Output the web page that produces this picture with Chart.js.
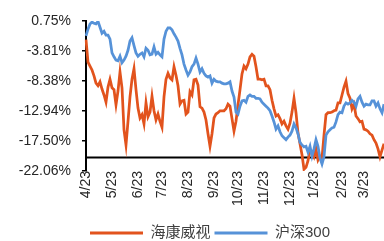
<!DOCTYPE html>
<html>
<head>
<meta charset="utf-8">
<script src="https://cdn.jsdelivr.net/npm/chart.js@4.4.1/dist/chart.umd.min.js"></script>
<style>
  html, body { margin: 0; padding: 0; background: #fff; }
  #wrap { width: 384px; height: 241px; }
</style>
</head>
<body>
<div id="wrap"><canvas id="chart" width="384" height="241"></canvas></div>
<script>
// 系列名称
const seriesNames = ['海康威视', '沪深300'];

// 月份刻度 (标签与所在数据序号)
const monthLabels = ['4/23', '5/23', '6/23', '7/23', '8/23', '9/23', '10/23', '11/23', '12/23', '1/23', '2/23', '3/23'];
const monthIdx = [0, 13, 26, 38, 51, 64, 76, 89, 102, 114, 128, 139];

// 纵轴刻度, 横轴交叉于 -20%
const yTicks = [0.75, -3.81, -8.38, -12.94, -17.50, -22.06];
const axisCross = -20;

// 累计涨跌幅 (%)
const hikvision = [
  -2.1, -5.5, -6.1, -6.7, -7.6, -8.7, -9.1, -8.5, -9.6, -10.5,
  -11.6, -9.3, -8.1, -9.4, -9.7, -12.0, -9.9, -7.0, -9.4, -15.8,
  -18.1, -14.5, -10.8, -8.1, -6.5, -9.7, -12.5, -14.0, -13.5, -14.9,
  -11.7, -13.8, -13.1, -10.7, -12.9, -14.3, -13.4, -14.5, -15.4, -10.8,
  -8.1, -7.2, -7.9, -8.2, -6.2, -7.5, -9.1, -11.9, -11.4, -11.3,
  -13.4, -13.1, -10.0, -10.5, -8.2, -8.1, -9.0, -12.3, -12.5, -13.1,
  -14.3, -16.4, -18.3, -16.4, -14.0, -13.4, -13.2, -12.9, -12.9, -12.9,
  -12.6, -11.9, -12.2, -14.1, -16.0, -14.5, -12.0, -9.7, -7.3, -6.1,
  -6.5, -5.8, -4.7, -4.3, -4.6, -6.2, -8.1, -8.1, -8.2, -8.1,
  -9.1, -9.1, -9.7, -11.3, -12.6, -13.7, -13.5, -14.1, -14.9, -14.5,
  -15.2, -15.7, -14.8, -13.1, -11.0, -13.2, -16.3, -17.9, -19.6, -21.8,
  -21.5, -20.5, -18.9, -19.2, -19.9, -18.7, -20.4, -19.8, -20.1, -16.6,
  -13.5, -13.2, -13.2, -13.1, -12.9, -12.8, -11.7, -11.7, -10.5, -9.3,
  -8.4, -10.3, -11.0, -12.6, -11.9, -13.7, -14.1, -14.6, -14.5, -15.7,
  -15.8, -16.0, -16.4, -16.6, -17.3, -17.8, -18.7, -19.9, -18.9, -17.9
];
const hs300 = [
  -1.5, -0.5, 0.3, 0.6, 0.4, 0.3, 0.7, -0.2, -1.1, -0.8,
  -1.4, -1.4, -2.0, -4.1, -4.7, -5.2, -5.3, -4.6, -5.6, -5.2,
  -4.6, -3.7, -2.3, -1.8, -3.0, -4.1, -4.6, -4.3, -4.1, -4.7,
  -3.4, -3.7, -4.4, -4.3, -3.2, -4.3, -4.0, -4.4, -4.7, -2.0,
  -0.8, -0.3, -0.3, -0.6, -1.2, -1.7, -2.3, -3.4, -4.4, -5.8,
  -6.7, -7.5, -7.0, -6.2, -5.8, -4.9, -5.8, -7.0, -6.5, -7.2,
  -7.6, -7.8, -7.6, -8.7, -8.1, -8.4, -8.5, -8.5, -8.7, -8.8,
  -8.8, -8.7, -8.5, -9.9, -10.8, -13.1, -13.4, -12.2, -11.4, -11.3,
  -11.6, -10.7, -10.5, -10.7, -10.7, -11.0, -11.0, -11.1, -11.6, -11.9,
  -12.2, -12.5, -12.9, -13.7, -14.6, -15.7, -15.2, -16.1, -16.7, -17.0,
  -17.3, -16.9, -16.6, -16.0, -14.9, -15.5, -16.4, -17.7, -18.1, -18.4,
  -18.3, -19.2, -18.3, -19.8, -18.7, -17.3, -18.3, -20.1, -21.0, -19.9,
  -16.6, -16.1, -15.8, -15.5, -15.4, -14.6, -13.5, -13.1, -13.2, -12.2,
  -11.7, -11.9, -11.7, -11.3, -11.6, -12.2, -11.1, -10.7, -11.6, -12.2,
  -11.9, -12.0, -12.0, -11.4, -11.4, -12.2, -11.7, -12.6, -13.2, -11.9
];

// 交易日序号作为类别
const days = hikvision.map((v, i) => i);

const orange = '#E2531D';
const blue = '#5692D8';
const textColor = '#262626';
const axisFont = { family: "'Liberation Sans', Arial, sans-serif", size: 14 };

// 横轴画在 -20% 处
const crossLine = {
  id: 'crossLine',
  beforeDatasetsDraw(chart) {
    const { ctx, chartArea, scales } = chart;
    const y = scales.y.getPixelForValue(axisCross);
    ctx.save();
    ctx.strokeStyle = '#000';
    ctx.lineWidth = 2;
    ctx.beginPath();
    ctx.moveTo(chartArea.left, y);
    ctx.lineTo(chartArea.right, y);
    ctx.stroke();
    ctx.restore();
  }
};

function makeSeries(name, values, color, order) {
  return {
    label: name,
    data: values,
    borderColor: color,
    backgroundColor: color,
    pointBorderColor: color,
    pointBackgroundColor: color,
    borderWidth: 2.75,
    pointRadius: 0,
    pointHoverRadius: 0,
    pointBorderWidth: 3,
    tension: 0,
    order: order
  };
}

new Chart(document.getElementById('chart'), {
  type: 'line',
  data: {
    labels: days,
    datasets: [
      makeSeries(seriesNames[0], hikvision, orange, 1),
      makeSeries(seriesNames[1], hs300, blue, 0)
    ]
  },
  options: {
    responsive: false,
    animation: false,
    devicePixelRatio: 1,
    layout: { padding: { top: 21, left: 0, right: 0, bottom: -9.5 } },
    plugins: {
      tooltip: { enabled: false },
      legend: {
        position: 'bottom',
        align: 'start',
        fullSize: false,
        labels: {
          usePointStyle: true,
          pointStyle: 'line',
          pointStyleWidth: 53,
          padding: 4,
          color: '#404040',
          font: { family: "'Liberation Sans', 'Noto Sans CJK SC', sans-serif", size: 15 },
          sort: (a, b) => a.datasetIndex - b.datasetIndex
        }
      }
    },
    scales: {
      x: {
        type: 'category',
        offset: false,
        grid: { display: false, drawTicks: false },
        border: { display: false },
        ticks: {
          autoSkip: false,
          minRotation: 90,
          maxRotation: 90,
          padding: 0,
          color: textColor,
          font: axisFont,
          callback: (v, i) => monthLabels[i]
        },
        afterBuildTicks: s => { s.ticks = monthIdx.map(v => ({ value: v })); },
        afterFit: s => { s.height = 50.5; }
      },
      y: {
        min: yTicks[yTicks.length - 1],
        max: yTicks[0],
        grid: { drawOnChartArea: false, drawTicks: true, tickLength: 4, color: '#000', lineWidth: 1.5 },
        border: { display: true, color: '#000', width: 2 },
        ticks: {
          padding: 11,
          color: textColor,
          font: axisFont,
          callback: v => v.toFixed(2) + '%'
        },
        afterBuildTicks: s => { s.ticks = yTicks.map(v => ({ value: v })); },
        afterFit: s => { s.width = 86; }
      }
    }
  },
  plugins: [crossLine]
});
</script>
</body>
</html>
